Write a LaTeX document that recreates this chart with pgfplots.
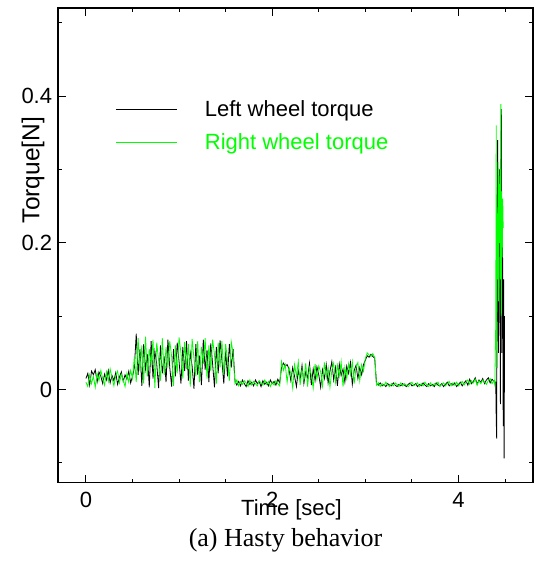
\documentclass[border=0pt]{standalone}
\usepackage{pgfplots}
\pgfplotsset{compat=1.18}
\usepackage{pgfplotstable}
\usepackage{fontspec}
\setmainfont{Liberation Sans}
\newfontfamily\timesfont{Liberation Serif}
\definecolor{brightgreen}{RGB}{0,255,0}

\pgfplotstableread{
t y
0.00 0.015
0.02 0.022
0.04 0.006
0.06 0.025
0.08 0.020
0.10 0.027
0.12 0.010
0.14 0.024
0.16 0.018
0.18 0.008
0.20 0.021
0.22 0.013
0.24 0.026
0.26 0.009
0.28 0.019
0.30 0.012
0.32 0.023
0.34 0.007
0.36 0.017
0.38 0.024
0.40 0.011
0.42 0.020
0.44 0.014
0.46 0.025
0.48 0.009
0.50 0.018
0.52 0.030
0.54 0.076
0.56 0.020
0.58 0.055
0.60 0.005
0.62 0.062
0.64 0.028
0.66 0.048
0.68 0.003
0.70 0.066
0.72 0.015
0.74 0.052
0.76 0.035
0.78 0.002
0.80 0.060
0.82 0.022
0.84 0.045
0.86 0.010
0.88 0.068
0.90 0.030
0.92 0.004
0.94 0.055
0.96 0.018
0.98 0.064
1.00 0.038
1.02 0.008
1.04 0.058
1.06 0.025
1.08 0.066
1.10 0.012
1.12 0.050
1.14 0.032
1.16 0.001
1.18 0.062
1.20 0.020
1.22 0.046
1.24 0.006
1.26 0.068
1.28 0.027
1.30 0.054
1.32 0.010
1.34 0.063
1.36 0.035
1.38 0.003
1.40 0.058
1.42 0.022
1.44 0.067
1.46 0.040
1.48 0.008
1.50 0.052
1.52 0.018
1.54 0.062
1.56 0.030
1.58 0.055
1.60 0.012
1.62 0.006
1.64 0.011
1.66 0.005
1.68 0.013
1.70 0.008
1.72 0.004
1.74 0.012
1.76 0.007
1.78 0.010
1.80 0.005
1.82 0.013
1.84 0.008
1.86 0.011
1.88 0.004
1.90 0.012
1.92 0.007
1.94 0.010
1.96 0.005
1.98 0.013
2.00 0.008
2.02 0.011
2.04 0.006
2.06 0.014
2.08 0.009
2.10 0.030
2.12 0.036
2.14 0.032
2.16 0.034
2.18 0.028
2.20 0.012
2.22 0.030
2.24 0.018
2.26 0.004
2.28 0.026
2.30 0.014
2.32 0.033
2.34 0.008
2.36 0.024
2.38 0.016
2.40 0.036
2.42 0.006
2.44 0.028
2.46 0.012
2.48 0.031
2.50 0.020
2.52 0.003
2.54 0.027
2.56 0.015
2.58 0.034
2.60 0.009
2.62 0.025
2.64 0.038
2.66 0.013
2.68 0.030
2.70 0.005
2.72 0.035
2.74 0.019
2.76 0.028
2.78 0.010
2.80 0.032
2.82 0.022
2.84 0.037
2.86 0.007
2.88 0.026
2.90 0.033
2.92 0.015
2.94 0.030
2.96 0.020
2.98 0.034
3.00 0.040
3.02 0.046
3.04 0.044
3.06 0.048
3.08 0.045
3.10 0.043
3.12 0.008
3.14 0.006
3.16 0.009
3.18 0.005
3.20 0.007
3.22 0.004
3.24 0.008
3.26 0.006
3.28 0.005
3.30 0.009
3.32 0.006
3.34 0.004
3.36 0.007
3.38 0.005
3.40 0.008
3.42 0.006
3.44 0.004
3.46 0.007
3.48 0.009
3.50 0.005
3.52 0.006
3.54 0.008
3.56 0.004
3.58 0.007
3.60 0.005
3.62 0.009
3.64 0.006
3.66 0.004
3.68 0.008
3.70 0.005
3.72 0.007
3.74 0.004
3.76 0.009
3.78 0.006
3.80 0.005
3.82 0.008
3.84 0.004
3.86 0.007
3.88 0.010
3.90 0.005
3.92 0.008
3.94 0.006
3.96 0.009
3.98 0.004
4.00 0.007
4.02 0.010
4.04 0.005
4.06 0.009
4.08 0.012
4.10 0.006
4.12 0.014
4.14 0.008
4.16 0.011
4.18 0.016
4.20 0.007
4.22 0.013
4.24 0.010
4.26 0.015
4.28 0.008
4.30 0.013
4.32 0.016
4.34 0.009
4.36 0.014
4.38 0.011
4.400 0.010
4.405 -0.040
4.410 -0.067
4.415 0.200
4.420 0.340
4.425 0.100
4.430 0.050
4.435 0.250
4.440 0.300
4.445 0.180
4.450 -0.020
4.455 0.310
4.460 0.382
4.465 0.050
4.470 0.250
4.475 0.150
4.480 -0.050
4.485 0.150
4.490 -0.094
4.495 0.100
}\leftdata

\pgfplotstableread{
t y
0.00 0.010
0.02 0.004
0.04 0.020
0.06 0.008
0.08 0.018
0.10 0.003
0.12 0.022
0.14 0.012
0.16 0.026
0.18 0.015
0.20 0.006
0.22 0.024
0.24 0.011
0.26 0.028
0.28 0.016
0.30 0.005
0.32 0.019
0.34 0.025
0.36 0.009
0.38 0.021
0.40 0.013
0.42 0.004
0.44 0.022
0.46 0.010
0.48 0.026
0.50 0.015
0.52 0.045
0.54 0.010
0.56 0.070
0.58 0.025
0.60 0.060
0.62 0.008
0.64 0.072
0.66 0.018
0.68 0.055
0.70 0.035
0.72 0.068
0.74 0.002
0.76 0.064
0.78 0.040
0.80 0.012
0.82 0.070
0.84 0.020
0.86 0.058
0.88 0.030
0.90 0.066
0.92 0.045
0.94 0.005
0.96 0.060
0.98 0.022
1.00 0.071
1.02 0.050
1.04 0.015
1.06 0.065
1.08 0.028
1.10 0.062
1.12 0.004
1.14 0.069
1.16 0.042
1.18 0.018
1.20 0.066
1.22 0.010
1.24 0.058
1.26 0.035
1.28 0.070
1.30 0.015
1.32 0.060
1.34 0.025
1.36 0.068
1.38 0.048
1.40 0.008
1.42 0.064
1.44 0.030
1.46 0.066
1.48 0.020
1.50 0.062
1.52 0.040
1.54 0.012
1.56 0.065
1.58 0.050
1.60 0.008
1.62 0.013
1.64 0.005
1.66 0.011
1.68 0.007
1.70 0.012
1.72 0.009
1.74 0.004
1.76 0.013
1.78 0.006
1.80 0.011
1.82 0.008
1.84 0.005
1.86 0.012
1.88 0.009
1.90 0.006
1.92 0.013
1.94 0.007
1.96 0.011
1.98 0.004
2.00 0.010
2.02 0.006
2.04 0.012
2.06 0.008
2.08 0.005
2.10 0.038
2.12 0.026
2.14 0.034
2.16 0.010
2.18 0.030
2.20 0.022
2.22 0.002
2.24 0.034
2.26 0.018
2.28 0.038
2.30 0.006
2.32 0.028
2.34 0.012
2.36 0.036
2.38 0.004
2.40 0.030
2.42 0.020
2.44 0.002
2.46 0.035
2.48 0.014
2.50 0.032
2.52 0.024
2.54 0.005
2.56 0.037
2.58 0.016
2.60 0.030
2.62 0.003
2.64 0.026
2.66 0.036
2.68 0.010
2.70 0.033
2.72 0.018
2.74 0.038
2.76 0.004
2.78 0.030
2.80 0.015
2.82 0.035
2.84 0.020
2.86 0.038
2.88 0.008
2.90 0.030
2.92 0.037
2.94 0.012
2.96 0.034
2.98 0.025
3.00 0.042
3.02 0.050
3.04 0.047
3.06 0.045
3.08 0.049
3.10 0.044
3.12 0.006
3.14 0.009
3.16 0.004
3.18 0.008
3.20 0.005
3.22 0.010
3.24 0.006
3.26 0.004
3.28 0.008
3.30 0.005
3.32 0.009
3.34 0.007
3.36 0.004
3.38 0.009
3.40 0.005
3.42 0.008
3.44 0.006
3.46 0.004
3.48 0.007
3.50 0.010
3.52 0.005
3.54 0.007
3.56 0.009
3.58 0.004
3.60 0.008
3.62 0.005
3.64 0.010
3.66 0.006
3.68 0.004
3.70 0.009
3.72 0.005
3.74 0.008
3.76 0.006
3.78 0.010
3.80 0.004
3.82 0.007
3.84 0.009
3.86 0.005
3.88 0.008
3.90 0.011
3.92 0.005
3.94 0.009
3.96 0.006
3.98 0.010
4.00 0.005
4.02 0.008
4.04 0.011
4.06 0.006
4.08 0.010
4.10 0.013
4.12 0.007
4.14 0.012
4.16 0.009
4.18 0.014
4.20 0.006
4.22 0.012
4.24 0.008
4.26 0.013
4.28 0.010
4.30 0.007
4.32 0.012
4.34 0.015
4.36 0.008
4.38 0.012
4.390 0.006
4.400 0.090
4.405 0.360
4.410 0.030
4.415 0.240
4.420 0.150
4.425 0.310
4.430 0.120
4.435 0.280
4.440 0.200
4.445 0.300
4.450 0.150
4.455 0.389
4.460 0.100
4.465 0.270
4.470 0.180
4.475 0.260
4.480 0.220
}\rightdata

\begin{document}
\begin{tikzpicture}
\begin{axis}[
  scale only axis,
  width=475pt, height=474.7pt,
  xmin=-0.3, xmax=4.8,
  ymin=-0.127, ymax=0.52,
  xtick={0,2,4},
  minor xtick={0.5,1,1.5,2.5,3,3.5,4.5},
  ytick={0,0.2,0.4},
  minor ytick={-0.1,0.1,0.3,0.5},
  tick align=inside,
  major tick length=8pt,
  minor tick length=4pt,
  axis line style={line width=1.1pt},
  every tick/.style={black, line width=0.9pt},
  /pgf/number format/assume math mode=true,
  tick label style={font=\fontsize{22}{26}\selectfont},
  xticklabel style={anchor=base, yshift=-24.5pt},
  yticklabel style={anchor=east, inner sep=0pt, xshift=-5.7pt},
  xlabel={Time [sec]},
  ylabel={Torque[N]},
  xlabel style={font=\fontsize{22}{26}\selectfont, at={(axis description cs:0.4916,-0.0695)}, anchor=base},
  ylabel style={font=\fontsize{24.5}{28}\selectfont, at={(axis description cs:-0.0526,0.6587)}, anchor=center},
  legend cell align=left,
  legend image code/.code={\draw[#1, line width=1.2pt] (0pt,0pt) -- (61pt,0pt);},
  legend style={draw=none, fill=none, at={(axis description cs:0.12,0.8045)}, anchor=north west,
    font=\fontsize{22}{26}\selectfont, inner sep=0pt, column sep=27.5pt, row sep=15.3pt,
    nodes={inner sep=0pt}},
]
\addplot[black, line width=0.8pt] table[x=t, y=y] {\leftdata};
\addlegendentry{Left wheel torque}
\addplot[brightgreen, line width=0.8pt] table[x=t, y=y] {\rightdata};
\addlegendentry{\textcolor{brightgreen}{Right wheel torque}}
\end{axis}
\node[anchor=base, font=\timesfont\fontsize{26}{30}\selectfont] at (227.5pt,-63.3pt) {(a) Hasty behavior};
\pgfresetboundingbox
\path[use as bounding box] (-58pt,-86.3pt) rectangle (477pt,482.7pt);
\end{tikzpicture}
\end{document}
